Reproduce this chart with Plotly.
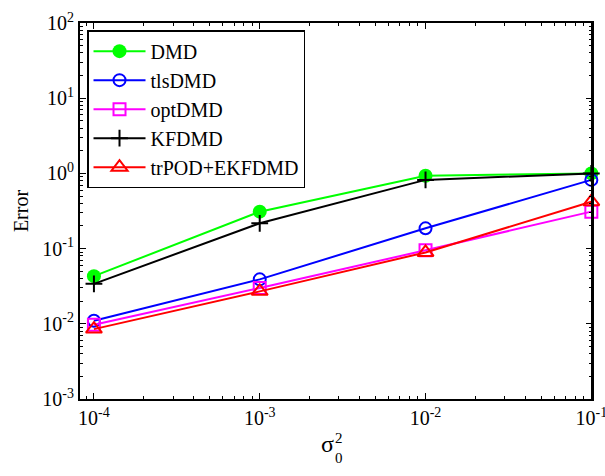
import plotly.graph_objects as go

# data
sigma2 = [1e-4, 1e-3, 1e-2, 1e-1]
err_dmd = [0.043, 0.31, 0.93, 1.0]
err_tls = [0.011, 0.039, 0.186, 0.82]
err_opt = [0.0097, 0.030, 0.095, 0.31]
err_kf = [0.034, 0.217, 0.82, 1.0]
err_tr = [0.0085, 0.027, 0.089, 0.42]

x_tickvals = [1e-4, 1e-3, 1e-2, 1e-1]
x_ticktext = ["10<sup>-4</sup>", "10<sup>-3</sup>", "10<sup>-2</sup>", "10<sup>-1</sup>"]
y_tickvals = [1e-3, 1e-2, 1e-1, 1e0, 1e1, 1e2]
y_ticktext = ["10<sup>-3</sup>", "10<sup>-2</sup>", "10<sup>-1</sup>", "10<sup>0</sup>",
              "10<sup>1</sup>", "10<sup>2</sup>"]

series = [
    ("DMD", err_dmd, "#00FF00", dict(symbol="circle", size=14, color="#00FF00")),
    ("tlsDMD", err_tls, "#0000FF", dict(symbol="circle-open", size=12, color="#0000FF", line=dict(width=2))),
    ("optDMD", err_opt, "#FF00FF", dict(symbol="square-open", size=12, color="#FF00FF", line=dict(width=2))),
    ("KFDMD", err_kf, "#000000", dict(symbol="cross-thin-open", size=12, color="#000000", line=dict(width=2, color="#000000"))),
    ("trPOD+EKFDMD", err_tr, "#FF0000", dict(symbol="triangle-up-open", size=14, color="#FF0000", line=dict(width=2))),
]

fig = go.Figure()
for name, ys, col, mk in series:
    fig.add_trace(go.Scatter(x=sigma2, y=ys, name=name, mode="lines+markers",
                             line=dict(color=col, width=2), marker=mk,
                             cliponaxis=False))

minor_x = [m * 10.0 ** e for e in range(-5, 0) for m in range(2, 10)]
minor_y = [m * 10.0 ** e for e in range(-4, 2) for m in range(2, 10)]

font = "Liberation Serif, Times New Roman, DejaVu Serif, serif"
fig.update_layout(
    width=605, height=476,
    margin=dict(l=80, r=13, t=23, b=77, autoexpand=False),
    paper_bgcolor="white", plot_bgcolor="white",
    font=dict(family=font, size=18, color="black"),
    showlegend=True,
    legend=dict(x=0.0137, y=0.981, xanchor="left", yanchor="top",
                bordercolor="black", borderwidth=1.5, bgcolor="white",
                font=dict(family=font, size=20, color="black"),
                traceorder="normal", itemwidth=52),
)
fig.update_xaxes(type="log", range=[-4.084, -0.996], tickmode="array", automargin=False,
                 tickvals=x_tickvals, ticktext=x_ticktext, ticklabeloverflow="allow",
                 ticks="inside", ticklen=6, tickwidth=1, tickcolor="black",
                 showline=True, linecolor="black", linewidth=2, mirror="allticks",
                 showgrid=False, zeroline=False,
                 minor=dict(tickmode="array", tickvals=minor_x, ticks="inside", ticklen=3,
                            tickcolor="black", showgrid=False),
                 tickfont=dict(family=font, size=20))
fig.update_yaxes(type="log", range=[-3, 2], tickmode="array", automargin=False,
                 tickvals=y_tickvals, ticktext=y_ticktext, ticklabeloverflow="allow",
                 ticks="inside", ticklen=6, tickwidth=1, tickcolor="black",
                 showline=True, linecolor="black", linewidth=2, mirror="allticks",
                 showgrid=False, zeroline=False,
                 minor=dict(tickmode="array", tickvals=minor_y, ticks="inside", ticklen=3,
                            tickcolor="black", showgrid=False),
                 tickfont=dict(family=font, size=20),
                 title=dict(text="Error", font=dict(family=font, size=20), standoff=8))

# right frame edge (MATLAB-style box)
fig.add_shape(type="line", xref="paper", yref="paper", x0=1, x1=1, y0=0, y1=1,
              line=dict(color="black", width=2), layer="above")

fig.add_annotation(text="σ", xref="paper", yref="paper", x=0.484, y=-0.160,
                   showarrow=False, font=dict(family=font, size=24))
fig.add_annotation(text="2", xref="paper", yref="paper", x=0.505, y=-0.130,
                   showarrow=False, font=dict(family=font, size=15))
fig.add_annotation(text="0", xref="paper", yref="paper", x=0.505, y=-0.183,
                   showarrow=False, font=dict(family=font, size=15))

fig.write_html("out.html", config={"displayModeBar": False},
               post_script="document.body.style.margin='0';document.body.style.overflow='hidden';")
